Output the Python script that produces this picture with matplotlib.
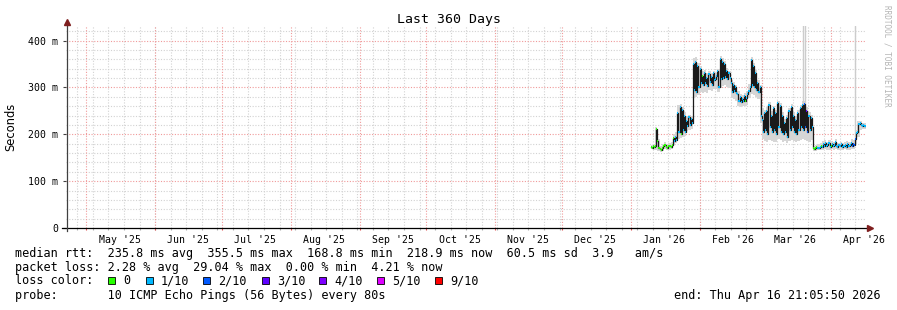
import numpy as np
import matplotlib.pyplot as plt
from matplotlib.patches import Rectangle
import matplotlib.transforms as mtransforms

plt.rcParams['font.family'] = 'DejaVu Sans Mono'

# ---- data -------------------------------------------------------------
end_time = np.datetime64('2026-04-16T21:05:50')
span_days = 360
start_time = end_time - np.timedelta64(span_days * 86400, 's')
jan1 = np.datetime64('2026-01-01T00:00:00')

# median rtt (ms), one sample every 12 h starting 10 Jan 2026 00:00
first_day = 9.0
sample_step = 0.5
median_ms = [
    173, 171, 174, 172, 176, 211, 185, 170, 168, 167, 171, 175, 178, 177, 172, 170, 174, 176, 173, 178,
    192, 186, 195, 188,
    245, 205, 258, 200, 252, 210, 240, 205,
    228, 218, 236, 220, 232, 225,
    350, 295, 355, 290, 345, 300, 340, 310,
    325, 305, 330, 310, 320, 302, 328, 312, 322, 306, 330, 315, 318, 325, 335, 300,
    360, 318, 355, 320, 350, 322, 335, 318, 330, 320,
    310, 290, 305, 292, 300, 288,
    285, 272, 280, 268, 276, 270, 282, 272, 278, 285,
    292, 300, 358, 305, 345, 300, 330, 295,
    310, 290, 300, 240,
    230, 205, 245, 210, 250, 200, 262, 215, 240, 205, 255, 210, 245, 200, 266, 215,
    260, 205, 240, 200, 225, 205, 235, 195, 250, 210, 258, 215, 240, 205, 230, 200,
    245, 210, 255, 215, 262, 210, 265, 215, 250, 205, 240, 210, 235, 215,
    170, 168, 170, 172, 170, 171, 173, 176, 172, 180, 176, 182, 174, 178, 181, 172,
    176, 180, 174, 178, 183, 175, 172, 177, 174, 179, 173, 176, 175, 178, 172, 180,
    176, 178, 182, 176, 180, 178,
    190, 202, 204, 222, 223, 220, 218, 219, 218, 218,
]
# lost pings out of 10 for each median sample
loss_tenths = [
    0, 0, 0, 0, 0, 0, 0, 0, 0, 0, 0, 0, 0, 0, 0, 0, 0, 0, 0, 0,
    0, 1, 1, 1,
    1, 1, 1, 0, 1, 1, 1, 1,
    1, 1, 1, 1, 1, 1,
    1, 1, 1, 1, 1, 1, 1, 1,
    0, 1, 1, 1, 1, 1, 1, 1, 1, 1, 1, 1, 1, 1, 1, 1,
    1, 1, 1, 1, 1, 1, 1, 1, 1, 1,
    1, 1, 1, 1, 1, 1,
    1, 1, 1, 1, 1, 1, 1, 0, 1, 1,
    1, 1, 1, 1, 1, 1, 1, 1,
    1, 1, 1, 1,
    1, 1, 1, 1, 1, 1, 1, 1, 1, 1, 1, 1, 1, 1, 1, 1,
    1, 1, 1, 1, 1, 1, 1, 1, 1, 1, 1, 1, 1, 1, 1, 1,
    1, 1, 1, 1, 1, 1, 2, 2, 3, 2, 1, 1, 1, 1,
    0, 0, 0, 0, 1, 1, 1, 0, 1, 1, 1, 1, 1, 1, 1, 1,
    0, 1, 1, 1, 1, 1, 1, 1, 1, 1, 1, 1, 1, 1, 1, 1,
    1, 1, 1, 2, 2, 2,
    2, 1, 1, 1, 1, 1, 1, 1, 1, 1,
]

# smoke (min / max ping, ms), one value per day starting 10 Jan 2026
smoke_first_day = 9
smoke_lo_ms = [
    168, 167, 166, 165, 163, 164, 168, 166, 167, 168,
    178, 182, 190, 192, 194, 196, 208, 210, 212,
    278, 280, 284, 290, 288, 290, 288, 294, 292, 296, 296, 290,
    298, 302, 305, 300, 298, 278, 276, 272, 260, 258, 260, 260, 262,
    278, 285, 283, 280, 276, 225,
    190, 186, 184, 188, 186, 183, 184, 190, 188, 184, 186, 182, 186, 188, 185, 183,
    186, 188, 190, 188, 186, 184, 188,
    164, 165, 166, 167, 166, 168, 167, 166, 168, 167, 168, 166, 167, 166, 168, 166,
    167, 168, 168,
    180, 195, 210, 212, 212,
]
smoke_hi_ms = [
    178, 180, 215, 190, 176, 180, 184, 180, 182, 184,
    200, 205, 262, 264, 258, 248, 240, 242, 238,
    362, 365, 352, 345, 335, 338, 330, 335, 330, 336, 330, 340,
    368, 362, 356, 342, 336, 316, 312, 306, 292, 286, 284, 288, 292,
    308, 365, 352, 338, 316, 305,
    255, 252, 258, 268, 250, 260, 252, 272, 266, 248, 232, 242, 256, 264, 248, 238,
    252, 262, 270, 272, 258, 248, 242,
    176, 178, 180, 182, 186, 188, 184, 188, 186, 184, 190, 182, 184, 182, 184, 186,
    184, 190, 188,
    210, 228, 228, 224, 224,
]
# isolated very slow pings (days after 1 Jan 2026)
spike_days = [77.6, 78.6, 100.9]
spike_base_ms = [262, 262, 190]
spike_top_ms = [440, 440, 440]

month_labels = ["May '25", "Jun '25", "Jul '25", "Aug '25", "Sep '25", "Oct '25",
                "Nov '25", "Dec '25", "Jan '26", "Feb '26", "Mar '26", "Apr '26"]
loss_levels = [0, 1, 2, 3, 4, 5, 9]
loss_names = ['0', '1/10', '2/10', '3/10', '4/10', '5/10', '9/10']
loss_colors = ['#26ff00', '#00b8ff', '#0059ff', '#5e00ff', '#7e00ff', '#dd00ff', '#ff0000']

summary_rtt = "median rtt:  235.8 ms avg  355.5 ms max  168.8 ms min  218.9 ms now  60.5 ms sd  3.9   am/s"
summary_loss = "packet loss: 2.28 % avg  29.04 % max  0.00 % min  4.21 % now"
probe_text = "probe:       10 ICMP Echo Pings (56 Bytes) every 80s"
end_text = "end: Thu Apr 16 21:05:50 2026"


def to_days(t):
    return (t.astype('datetime64[s]') - start_time) / np.timedelta64(1, 'D')


# ---- figure -----------------------------------------------------------
W, H = 897, 310
fig = plt.figure(figsize=(W / 100, H / 100), dpi=100)
fig.patch.set_facecolor('white')
ax = fig.add_axes([66 / W, 82 / H, 800 / W, 202 / H])
ax.set_xlim(0, span_days)
ax.set_ylim(0, 431)
for s in ax.spines.values():
    s.set_visible(False)

# grid
dot = (0, (1, 1.5))
for v in range(20, 431, 20):
    if v % 100:
        ax.axhline(v, color='#d2d2d2', lw=0.8, ls=dot, zorder=0)
weeks = np.arange(np.datetime64('2025-04-27'), end_time.astype('datetime64[D]'),
                  np.timedelta64(7, 'D'))
for w in to_days(weeks):
    ax.axvline(w, color='#d2d2d2', lw=0.8, ls=dot, zorder=0)
for v in range(100, 431, 100):
    ax.axhline(v, color='#f09a9a', lw=0.8, ls=dot, zorder=0.5)
month_starts = np.arange(np.datetime64('2025-05'), np.datetime64('2026-05'))
month_x = to_days(month_starts.astype('datetime64[D]'))
for m in month_x:
    ax.axvline(m, color='#f09a9a', lw=0.8, ls=dot, zorder=0.5)

# small ticks under the x axis
bt = mtransforms.blended_transform_factory(ax.transData, ax.transAxes)
ax.vlines(to_days(weeks), -0.012, 0, color='#b0b0b0', lw=0.8, transform=bt, clip_on=False)
ax.vlines(month_x, -0.012, 0, color='#e05050', lw=0.8, transform=bt, clip_on=False)

# smoke
jan_off = to_days(jan1)
xs = jan_off + smoke_first_day + np.arange(len(smoke_lo_ms) + 1)
lo = np.append(smoke_lo_ms, smoke_lo_ms[-1])
hi = np.append(smoke_hi_ms, smoke_hi_ms[-1])
ax.fill_between(xs, lo, hi, step='post', color='#d6d6d6', lw=0, zorder=1)
ax.vlines(jan_off + np.array(spike_days), spike_base_ms, spike_top_ms,
          color='#cccccc', lw=1.0, zorder=1)

# median line with loss colours
xm = jan_off + first_day + sample_step * np.arange(len(median_ms))
ax.step(np.append(xm, xm[-1] + sample_step), np.append(median_ms, median_ms[-1]),
        where='post', color='#1a1a1a', lw=0.9, zorder=2)
cmap = dict(zip(loss_levels, loss_colors))
ax.hlines(median_ms, xm, xm + sample_step, colors=[cmap[l] for l in loss_tenths],
          lw=1.4, zorder=3)

# axes lines and arrows
ax.plot([-0.005, 1.005], [0, 0], color='black', lw=0.9, transform=ax.transAxes,
        clip_on=False, zorder=4)
ax.plot([0.001, 0.001], [-0.015, 1.02], color='#404040', lw=0.9, transform=ax.transAxes,
        clip_on=False, zorder=4)
ax.plot([0.001], [1.02], marker='^', ms=4, color='#7f1f1f', transform=ax.transAxes,
        clip_on=False, zorder=5)
ax.plot([1.005], [0], marker='>', ms=4, color='#7f1f1f', transform=ax.transAxes,
        clip_on=False, zorder=5)

# tick labels
ax.set_yticks([0, 100, 200, 300, 400])
ax.set_yticklabels(['0', '100 m', '200 m', '300 m', '400 m'])
ax.set_xticks(month_x + 15)
ax.set_xticklabels(month_labels)
ax.tick_params(axis='y', length=2.5, width=0.8, color='#404040', pad=3, labelsize=7.1)
ax.tick_params(axis='x', length=0, pad=5, labelsize=7.1)

# titles / labels
fig.text(W / 2 / W, 1 - 19 / H, 'Last 360 Days', ha='center', va='center', fontsize=9.5)
fig.text(11 / W, 1 - 127 / H, 'Seconds', rotation=90, ha='center', va='center',
         fontsize=8.3, family='DejaVu Sans')
fig.text(887 / W, 1 - 5 / H, 'RRDTOOL / TOBI OETIKER', rotation=270, ha='center', va='top',
         fontsize=5.5, color='#b4b4b4')

# legend block
fs = 8.5
fig.text(15 / W, 1 - 254 / H, summary_rtt, va='center', fontsize=fs)
fig.text(15 / W, 1 - 268 / H, summary_loss, va='center', fontsize=fs)
fig.text(15 / W, 1 - 281 / H, 'loss color:', va='center', fontsize=fs)
box_x = [108, 146, 203, 262, 319, 377, 435]
for bx, name, col in zip(box_x, loss_names, loss_colors):
    fig.patches.append(Rectangle((bx / W, 1 - 284 / H), 7 / W, 7 / H, transform=fig.transFigure,
                                 facecolor=col, edgecolor='black', lw=0.6))
    fig.text((bx + 15) / W, 1 - 281 / H, name, va='center', fontsize=fs)
fig.text(15 / W, 1 - 296 / H, probe_text, va='center', fontsize=fs)
fig.text(881 / W, 1 - 296 / H, end_text, ha='right', va='center', fontsize=fs)

fig.savefig('out.png', dpi=100, facecolor='white')
